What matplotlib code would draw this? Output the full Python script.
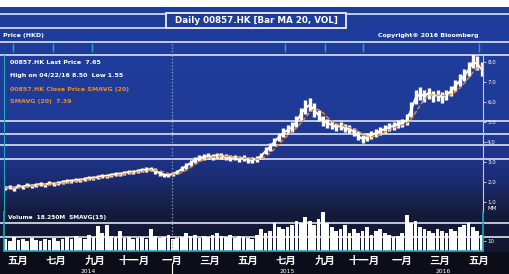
import numpy as np
import pandas as pd
import matplotlib
matplotlib.use("Agg")
import matplotlib.pyplot as plt
from matplotlib.colors import to_rgb
from matplotlib.patches import Rectangle

plt.rcParams['font.family'] = ['DejaVu Sans']

# === Data (weekly) ===
close = [1.70, 1.75, 1.65, 1.80, 1.75, 1.85, 1.80, 1.85, 1.90, 1.85,
         1.95, 1.90, 1.95, 2.00, 2.05, 2.05, 2.10, 2.10, 2.15, 2.20,
         2.20, 2.25, 2.30, 2.30, 2.35, 2.40, 2.40, 2.45, 2.50, 2.50,
         2.55, 2.60, 2.60, 2.65, 2.55, 2.45, 2.35, 2.35, 2.40, 2.50,
         2.65, 2.80, 2.95, 3.10, 3.20, 3.25, 3.30, 3.25, 3.35, 3.30,
         3.25, 3.20, 3.25, 3.15, 3.20, 3.10, 3.10, 3.15, 3.30, 3.55,
         3.75, 4.00, 4.25, 4.45, 4.60, 4.75, 5.00, 5.40, 5.70, 5.85,
         5.60, 5.35, 5.05, 4.95, 4.85, 4.75, 4.80, 4.70, 4.65, 4.50,
         4.30, 4.15, 4.25, 4.35, 4.45, 4.55, 4.65, 4.75, 4.80, 4.90,
         4.95, 5.10, 5.60, 6.20, 6.40, 6.30, 6.45, 6.30, 6.35, 6.25,
         6.35, 6.55, 6.80, 7.05, 7.30, 7.60, 8.00, 7.90, 7.65]
high = [1.80, 1.85, 1.80, 1.90, 1.85, 1.95, 1.90, 1.95, 2.00, 1.95,
        2.05, 2.00, 2.05, 2.10, 2.15, 2.15, 2.20, 2.20, 2.25, 2.30,
        2.30, 2.35, 2.40, 2.40, 2.45, 2.50, 2.50, 2.55, 2.60, 2.60,
        2.65, 2.70, 2.75, 2.75, 2.70, 2.55, 2.45, 2.45, 2.50, 2.60,
        2.80, 2.95, 3.10, 3.25, 3.35, 3.40, 3.45, 3.40, 3.45, 3.45,
        3.40, 3.35, 3.35, 3.30, 3.35, 3.25, 3.25, 3.30, 3.45, 3.75,
        3.95, 4.20, 4.45, 4.70, 4.85, 5.00, 5.30, 5.70, 6.10, 6.20,
        5.95, 5.60, 5.30, 5.15, 5.05, 4.95, 5.00, 4.90, 4.85, 4.70,
        4.55, 4.35, 4.45, 4.55, 4.65, 4.75, 4.85, 4.95, 5.00, 5.10,
        5.15, 5.40, 6.00, 6.60, 6.75, 6.60, 6.70, 6.55, 6.60, 6.50,
        6.60, 6.80, 7.10, 7.40, 7.65, 8.00, 8.50, 8.30, 8.00]
low = [1.60, 1.65, 1.55, 1.70, 1.65, 1.75, 1.70, 1.75, 1.80, 1.75,
       1.85, 1.80, 1.85, 1.90, 1.95, 1.95, 2.00, 2.00, 2.05, 2.10,
       2.10, 2.15, 2.20, 2.20, 2.25, 2.30, 2.30, 2.35, 2.40, 2.40,
       2.45, 2.50, 2.50, 2.55, 2.40, 2.30, 2.25, 2.25, 2.30, 2.40,
       2.55, 2.65, 2.80, 2.95, 3.05, 3.10, 3.15, 3.10, 3.20, 3.15,
       3.10, 3.05, 3.10, 3.00, 3.05, 2.95, 2.95, 3.00, 3.15, 3.40,
       3.55, 3.80, 4.05, 4.25, 4.40, 4.50, 4.75, 5.10, 5.40, 5.55,
       5.25, 5.05, 4.80, 4.70, 4.65, 4.55, 4.60, 4.50, 4.45, 4.30,
       4.10, 3.95, 4.05, 4.15, 4.25, 4.35, 4.45, 4.55, 4.60, 4.70,
       4.75, 4.85, 5.25, 5.90, 6.10, 6.00, 6.15, 6.00, 6.05, 5.95,
       6.10, 6.30, 6.55, 6.80, 7.05, 7.30, 7.70, 7.60, 7.30]
volume = [12, 10, 14, 11, 12, 10, 13, 11, 10, 12,
          11, 13, 10, 12, 14, 12, 15, 13, 12, 16,
          14, 25, 18, 26, 15, 14, 20, 13, 14, 12,
          13, 14, 12, 22, 15, 13, 14, 16, 12, 13,
          14, 18, 15, 16, 13, 15, 14, 16, 18, 15,
          14, 16, 13, 15, 14, 13, 12, 16, 22, 18,
          20, 28, 24, 22, 24, 26, 30, 28, 34, 30,
          26, 32, 46, 28, 24, 20, 22, 26, 18, 22,
          18, 20, 24, 16, 20, 22, 18, 16, 14, 15,
          18, 36, 28, 30, 24, 22, 20, 18, 22, 20,
          18, 22, 20, 24, 26, 28, 24, 20, 16]
dates = pd.date_range("2014-04-11", periods=len(close), freq="W-FRI")
ma20 = pd.Series(close).rolling(4, min_periods=1).mean()

event_dates = pd.to_datetime(["2014-04-24", "2014-06-25", "2014-08-27",
                              "2015-06-29", "2015-09-01", "2015-10-31", "2016-05-01"])
month_names = ["一月", "二月", "三月", "四月", "五月", "六月",
               "七月", "八月", "九月", "十月", "十一月", "十二月"]
month_ticks = pd.date_range("2014-05-01", "2016-05-01", freq="2MS")
month_labels = [month_names[d.month - 1] for d in month_ticks]
years = ["2014", "2015", "2016"]
year_starts = pd.to_datetime(["2015-01-01", "2016-01-01"])

x_left, x_right = pd.Timestamp("2014-04-09"), pd.Timestamp("2016-05-08")

# === Figure & background ===
W, H = 510, 274
fig = plt.figure(figsize=(W / 100, H / 100), dpi=100)
bg = fig.add_axes([0, 0, 1, 1], zorder=0)
bg.set_axis_off()
stops = [(0, '#ffffff'), (6.5, '#ffffff'), (7, '#1e3c9a'), (55, '#1f3d9c'),
         (120, '#1f3a96'), (160, '#1e3388'), (185, '#1b2a6a'), (200, '#18224f'),
         (215, '#141a3a'), (251, '#121731'), (252, '#0b0d18'), (274, '#0b0d18')]
rows = np.arange(H) + 0.5
ys = [s[0] for s in stops]
grad = np.stack([np.interp(rows, ys, [to_rgb(s[1])[k] for s in stops]) for k in range(3)], axis=-1)
bg.imshow(np.repeat(grad[:, None, :], W, axis=1), aspect='auto', extent=[0, W, H, 0])
bg.set_xlim(0, W)
bg.set_ylim(H, 0)

line_c = '#dfe3ee'
for y in [42, 55, 121, 134, 145, 159, 223, 237]:
    bg.plot([0, W], [y, y], color=line_c, lw=1.2)
bg.plot([0, 166], [14, 14], color=line_c, lw=1.2)
bg.plot([346, W], [14, 14], color=line_c, lw=1.2)
bg.plot([0, 346], [28, 28], color=line_c, lw=1.2)
bg.add_patch(Rectangle((166, 12.5), 180, 15.5, fill=False, ec='white', lw=1.2))
bg.text(256, 20.5, "Daily 00857.HK [Bar MA 20, VOL]", color='white', fontsize=6.3,
        weight='bold', ha='center', va='center')
bg.text(3, 35, "Price (HKD)", color='white', fontsize=4.5, weight='bold', va='center')
bg.text(378, 35, "Copyright\u00a9 2016 Bloomberg", color='white', fontsize=4.5,
        weight='bold', va='center')

orange = '#f08c28'
bg.text(10, 62, "00857.HK Last Price  7.65", color='white', fontsize=4.5, weight='bold', va='center')
bg.text(10, 75, "High on 04/22/16 8.50  Low 1.55", color='white', fontsize=4.5, weight='bold', va='center')
bg.text(10, 89, "00857.HK Close Price SMAVG (20)", color=orange, fontsize=4.5, weight='bold', va='center')
bg.text(10, 102, "SMAVG (20)  7.39", color=orange, fontsize=4.5, weight='bold', va='center')
bg.text(8, 218, "Volume  18.250M  SMAVG(15)", color='white', fontsize=4.2, weight='bold', va='center')
bg.text(488, 208, "MM", color='white', fontsize=4, va='center')

# === Price panel ===
cyan = '#1fa8b8'
ax = fig.add_axes([4 / W, 1 - 212 / H, 479 / W, 157 / H], zorder=2)
ax.patch.set_alpha(0)
ax.vlines(dates, low, high, color='white', lw=2.4)
ax.plot(dates, close, color='white', lw=1.5)
ax.plot(dates, ma20, color=orange, lw=1.0, ls=(0, (3, 1.5)))
ax.set_ylim(0.5, 8.35)
ax.set_xlim(x_left, x_right)
ax.yaxis.tick_right()
ax.set_yticks(range(1, 9))
ax.set_yticklabels([f"{v:.1f}" for v in range(1, 9)])
ax.tick_params(axis='y', colors='white', labelsize=4, length=2, width=0.5, pad=1)
ax.tick_params(axis='x', bottom=False, labelbottom=False)
for s in ['top', 'bottom']:
    ax.spines[s].set_visible(False)
ax.spines['left'].set_color(cyan)
ax.spines['right'].set_color('#b8d0ec')
ax.axvline(year_starts[0], color='#9aa4c8', ls=':', lw=0.9)

# === Event band ===
band = fig.add_axes([4 / W, 1 - 55 / H, 479 / W, 13 / H], zorder=2, sharex=ax)
band.patch.set_alpha(0)
band.vlines(event_dates, 0.2, 0.95, color=cyan, lw=1.0)
band.axvline(year_starts[0], color='#9aa4c8', ls=':', lw=0.9)
band.set_ylim(0, 1)
band.set_axis_off()

# === Volume panel ===
vax = fig.add_axes([4 / W, 1 - 251 / H, 479 / W, 39 / H], zorder=2, sharex=ax)
vax.patch.set_alpha(0)
vax.bar(dates, volume, width=5.8, color='white', lw=0)
vax.set_ylim(0, 39)
vax.axvline(year_starts[0], color='#9aa4c8', ls=':', lw=0.9)
vax.yaxis.tick_right()
vax.set_yticks([10])
vax.tick_params(axis='y', colors='white', labelsize=4, length=2, width=0.5, pad=1)
vax.spines['top'].set_visible(False)
for s in ['left', 'right', 'bottom']:
    vax.spines[s].set_color(cyan)
    vax.spines[s].set_linewidth(1.2)
vax.set_xticks(month_ticks)
vax.set_xticklabels(month_labels, family=['Noto Sans CJK SC', 'DejaVu Sans'], weight='bold')
vax.tick_params(axis='x', colors='white', labelsize=7.5, length=0, pad=3.5)
vax.set_xlim(x_left, x_right)

# year labels, centred in each year section, at the very bottom
bounds = [x_left] + list(year_starts) + [x_right]
for i, yr in enumerate(years):
    mid = bounds[i] + (bounds[i + 1] - bounds[i]) / 2
    vax.text(mid, -0.58, yr, transform=vax.get_xaxis_transform(), color='white',
             fontsize=4.3, ha='center', va='bottom', clip_on=False)
vax.plot([year_starts[0]] * 2, [-0.35, -0.6], transform=vax.get_xaxis_transform(),
         color='white', lw=0.8, clip_on=False)

fig.savefig("out.png", dpi=100)
